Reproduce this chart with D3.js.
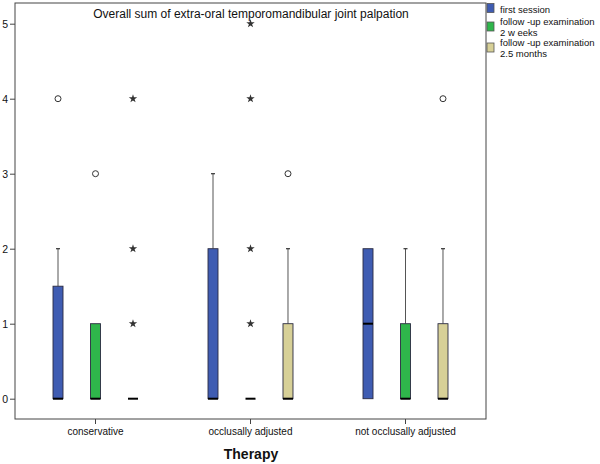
<!DOCTYPE html>
<html><head><meta charset="utf-8">
<script src="https://cdn.jsdelivr.net/npm/d3@7"></script>
<style>body{margin:0;background:#fff;}svg{display:block;font-family:"Liberation Sans",Arial,sans-serif;}</style>
</head><body>
<svg id="c" width="600" height="464"></svg>
<script>
const categories = ["conservative", "occlusally adjusted", "not occlusally adjusted"];
const seriesNames = ["first session", "follow -up examination\n2 w eeks", "follow -up examination\n2.5 months"];
const seriesColors = ["#3f5cb2", "#2fb64b", "#d7d097"];
const yTicks = [0, 1, 2, 3, 4, 5];
// [series][category]
const q1 = [[0, 0, 0], [0, 0, 0], [0, 0, 0]];
const medians = [[0, 0, 1], [0, 0, 0], [0, 0, 0]];
const q3 = [[1.5, 2, 2], [1, 0, 1], [0, 1, 1]];
const whiskerLow = [[0, 0, 0], [0, 0, 0], [0, 0, 0]];
const whiskerHigh = [[2, 3, 2], [1, 0, 2], [0, 2, 2]];
// outliers (circles): [category, series, value]
const outliers = [[0, 0, 4], [0, 1, 3], [1, 2, 3], [2, 2, 4]];
// extremes (stars): [category, series, value]
const extremes = [[0, 2, 1], [0, 2, 2], [0, 2, 4], [1, 1, 1], [1, 1, 2], [1, 1, 4], [1, 1, 5]];
const title = "Overall sum of extra-oral temporomandibular joint palpation";
const xTitle = "Therapy";

const svg = d3.select("#c");
const frame = {l: 15, r: 486, t: 3, b: 419};
const y = d3.scaleLinear().domain([0, 5]).range([398.7, 23.7]);
const x = d3.scaleBand().domain(categories).range([18, 483]);
const xs = d3.scalePoint().domain([0, 1, 2]).range([0, x.bandwidth()]).padding(1.067);
const bw = 10;

// frame
svg.append("rect").attr("x", frame.l).attr("y", frame.t)
  .attr("width", frame.r - frame.l).attr("height", frame.b - frame.t)
  .attr("fill", "none").attr("stroke", "#444").attr("stroke-width", 1);

// y axis
const yAxis = svg.append("g").attr("transform", `translate(${frame.l},0)`)
  .call(d3.axisLeft(y).tickValues(yTicks).tickFormat(d3.format("d")).tickSize(5).tickPadding(2));
yAxis.select(".domain").remove();
yAxis.selectAll("line").attr("stroke", "#444");
yAxis.selectAll("text").attr("font-size", 10.5).attr("fill", "#111").style("font-family", "Liberation Sans, Arial");

// x axis
const xAxis = svg.append("g").attr("transform", `translate(0,${frame.b})`)
  .call(d3.axisBottom(x).tickSize(5).tickPadding(4));
xAxis.select(".domain").remove();
xAxis.selectAll("line").attr("stroke", "#444");
xAxis.selectAll("text").attr("font-size", 10).attr("fill", "#111").style("font-family", "Liberation Sans, Arial");

// boxes
const boxes = [];
seriesNames.forEach((s, si) => categories.forEach((c, ci) => {
  boxes.push({si, ci, cx: x(c) + xs(si), q1: q1[si][ci], med: medians[si][ci], q3: q3[si][ci], lo: whiskerLow[si][ci], hi: whiskerHigh[si][ci]});
}));
const g = svg.append("g");
boxes.forEach(b => {
  if (b.hi > b.q3) {
    g.append("line").attr("x1", b.cx).attr("x2", b.cx).attr("y1", y(b.q3)).attr("y2", y(b.hi)).attr("stroke", "#555").attr("stroke-width", 1);
    g.append("line").attr("x1", b.cx - 2).attr("x2", b.cx + 2).attr("y1", y(b.hi)).attr("y2", y(b.hi)).attr("stroke", "#333").attr("stroke-width", 1.2);
  }
  if (b.lo < b.q1) {
    g.append("line").attr("x1", b.cx).attr("x2", b.cx).attr("y1", y(b.q1)).attr("y2", y(b.lo)).attr("stroke", "#555");
  }
  if (b.q3 > b.q1) {
    g.append("rect").attr("x", b.cx - bw / 2).attr("y", y(b.q3)).attr("width", bw).attr("height", y(b.q1) - y(b.q3))
      .attr("fill", seriesColors[b.si]).attr("stroke", "#2a2a40").attr("stroke-width", 0.9);
  }
  g.append("line").attr("x1", b.cx - bw / 2).attr("x2", b.cx + bw / 2).attr("y1", y(b.med)).attr("y2", y(b.med))
    .attr("stroke", "#000").attr("stroke-width", 2);
});

// outliers
svg.append("g").selectAll("circle").data(outliers).join("circle")
  .attr("cx", d => x(categories[d[0]]) + xs(d[1])).attr("cy", d => y(d[2])).attr("r", 3)
  .attr("fill", "none").attr("stroke", "#333").attr("stroke-width", 1);
svg.append("g").selectAll("path").data(extremes).join("path")
  .attr("transform", d => `translate(${x(categories[d[0]]) + xs(d[1])},${y(d[2])})`)
  .attr("d", d3.symbol(d3.symbolStar, 22))
  .attr("fill", "#333");

// title
svg.append("text").attr("x", 251).attr("y", 18).attr("text-anchor", "middle")
  .attr("font-size", 12).attr("fill", "#111").text(title);

// x title
svg.append("text").attr("x", 251).attr("y", 459).attr("text-anchor", "middle")
  .attr("font-size", 14).attr("font-weight", "bold").attr("fill", "#111").text(xTitle);

// legend
const leg = svg.append("g");
const legY = [3.5, 22, 43];
const legBase = [12.5, 25, 46];
seriesNames.forEach((s, i) => {
  leg.append("rect").attr("x", 487).attr("y", legY[i]).attr("width", 7).attr("height", 9)
    .attr("fill", seriesColors[i]).attr("stroke", "#555").attr("stroke-width", 0.8);
  const lines = s.split("\n");
  lines.forEach((t, j) => {
    const tx = leg.append("text").attr("x", 500).attr("y", legBase[i] + j * 10.5)
      .attr("font-size", 9.5).attr("fill", "#111").text(t);
    const w = tx.node().getComputedTextLength();
    if (w > 95) tx.attr("textLength", 95).attr("lengthAdjust", "spacingAndGlyphs");
  });
});
</script>
</body></html>
